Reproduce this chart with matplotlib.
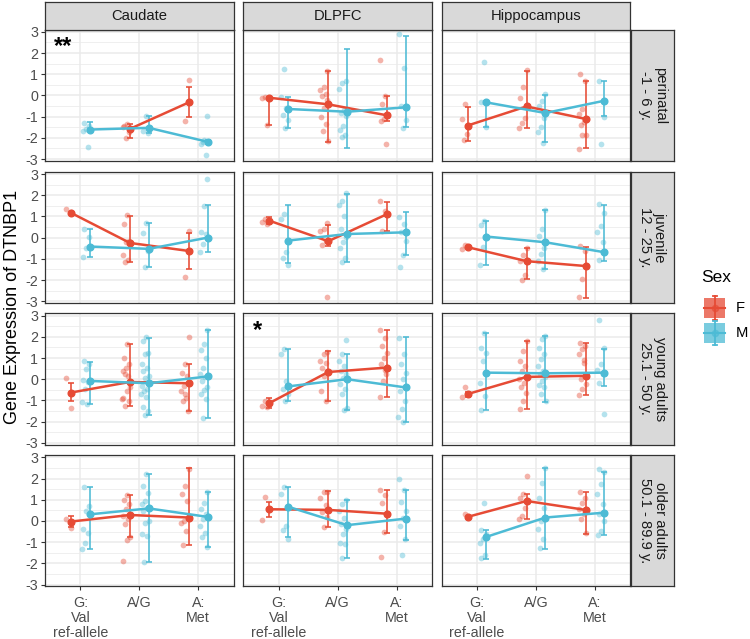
import matplotlib
matplotlib.use("Agg")
import matplotlib.pyplot as plt
from matplotlib.patches import Rectangle
from matplotlib.lines import Line2D

plt.rcParams['font.family'] = ['Liberation Sans', 'DejaVu Sans']

regions = ["Caudate", "DLPFC", "Hippocampus"]
age_groups = ["perinatal\n-1 - 6 y.", "juvenile\n12 - 25 y.",
              "young adults\n25.1 - 50 y.", "older adults\n50.1 - 89.9 y."]
genotypes = ["G:\nVal\nref-allele", "A/G", "A:\nMet"]
sexes = ["F", "M"]
colors = {"F": "#E64B35", "M": "#4DBBD5"}
y_ticks = [-3, -2, -1, 0, 1, 2, 3]
signif = {(0, 0): "**", (2, 1): "*"}

# [age][region][genotype]
F_mean = [
    [[None, -1.58, -0.33], [-0.11, -0.42, -0.94], [-1.42, -0.52, -1.11]],
    [[1.17, -0.25, -0.63], [0.80, -0.17, 1.11], [-0.45, -1.11, -1.34]],
    [[-0.63, -0.13, -0.19], [-1.13, 0.34, 0.55], [-0.70, 0.11, 0.16]],
    [[-0.03, 0.28, 0.16], [0.55, 0.52, 0.34], [0.19, 0.94, 0.52]],
]
F_lo = [
    [[None, -2.03, -1.03], [-1.41, -2.19, -1.22], [-2.13, -1.53, -2.50]],
    [[None, -1.16, -1.47], [0.64, -0.38, 0.30], [None, -1.97, -2.83]],
    [[-1.05, -1.25, -1.52], [-1.36, -1.02, -0.83], [-0.83, -1.41, -0.73]],
    [[-0.31, -0.75, -1.14], [0.20, -0.27, -0.55], [None, 0.11, -0.63]],
]
F_hi = [
    [[None, -1.34, 0.38], [-0.06, 1.16, -0.02], [-0.55, 1.17, 0.70]],
    [[None, 1.03, 0.20], [0.95, 0.61, 1.69], [None, -0.48, -0.42]],
    [[-0.20, 1.67, 0.73], [-0.89, 1.33, 2.30], [-0.58, 1.80, 1.69]],
    [[0.23, 1.22, 2.48], [0.91, 1.41, 1.48], [None, 1.25, 1.36]],
]
M_mean = [
    [[-1.61, -1.53, -2.19], [-0.64, -0.77, -0.56], [-0.33, -0.83, -0.25]],
    [[-0.42, -0.53, 0.00], [-0.14, 0.17, 0.25], [0.05, -0.22, -0.69]],
    [[-0.08, -0.19, 0.13], [-0.34, 0.00, -0.39], [0.31, 0.28, 0.31]],
    [[0.31, 0.59, 0.19], [0.67, -0.20, 0.11], [-0.75, 0.16, 0.39]],
]
M_lo = [
    [[-1.69, -1.77, -2.27], [-1.53, -2.50, -1.50], [-1.50, -2.20, -0.98]],
    [[-0.92, -1.39, -0.69], [-1.20, -1.16, -0.80], [-1.28, -1.47, -1.08]],
    [[-1.17, -1.67, -1.83], [-1.05, -1.45, -2.03], [-1.45, -1.09, -0.31]],
    [[-1.33, -1.95, -1.22], [-0.78, -1.75, -0.91], [-1.80, -1.33, -0.67]],
]
M_hi = [
    [[-1.27, -0.98, -2.10], [-0.08, 2.19, 2.81], [-0.28, 0.03, 0.69]],
    [[0.41, 0.67, 1.53], [1.53, 2.08, 1.22], [0.80, 1.30, 1.55]],
    [[0.83, 1.95, 2.30], [1.41, 1.17, 1.98], [2.17, 2.03, 1.44]],
    [[1.61, 2.20, 1.36], [1.61, 0.97, 1.44], [-0.44, 2.50, 2.31]],
]

# individual samples per [region][genotype]
F_pts_perinatal = [
    [[], [-1.33, -1.42, -1.73, -2.0, -1.5], [0.75, -1.22]],
    [[-0.09, -0.12, -1.39],
     [1.16, 0.38, 0.27, 0.08, -0.05, -0.23, -0.59, -1.02, -1.34, -1.67, -2.16],
     [1.67, -0.02, -0.41, -0.98, -1.11, -1.22, -2.31]],
    [[-0.41, -1.09, -1.84, -2.08], [1.19, 0.42, -0.13, -1.06, -1.3, -1.56],
     [1.0, 0.7, -0.64, -0.86, -1.25, -1.38, -1.88, -1.88, -2.52]],
]
M_pts_perinatal = [
    [[-1.3, -1.45, -1.6, -1.69, -2.44], [-0.98, -1.69, -1.77],
     [-0.95, -2.1, -2.27, -2.83, -2.2]],
    [[1.23, -0.08, -0.61, -0.92, -1.14, -1.53],
     [0.7, 0.58, 0.3, -0.67, -0.83, -0.98, -1.45, -1.63, -1.88, -1.95],
     [2.88, 1.28, -0.52, -1.14, -1.56]],
    [[1.59, -0.33, -1.5], [0.08, -0.28, -0.52, -1.06, -1.48, -1.73, -2.23],
     [0.69, -1.02, -2.28]],
]
F_pts_juvenile = [
    [[1.34, 1.19], [1.06, 0.64, -0.14, -0.22, -0.81, -1.05, -1.16], [0.33, -1.86]],
    [[0.87, 0.72, 0.64], [0.67, 0.41, 0.33, -0.14, -0.33, -2.8], [1.73, 1.27, 0.33]],
    [[-0.34, -0.53], [-0.48, -0.84, -1.08, -1.78, -1.98], [-0.38, -0.61, -1.94, -2.8]],
]
M_pts_juvenile = [
    [[0.41, 0.05, -0.48, -0.92], [0.7, 0.22, -0.61, -1.39],
     [2.78, 1.5, 0.25, 0.17, -0.3, -0.66]],
    [[1.11, 0.88, -0.66, -0.97, -1.28],
     [2.09, 1.73, 1.53, 1.03, 0.41, 0.02, -0.22, -0.5, -0.97, -1.16],
     [0.95, 0.64, 0.25, -0.14, -0.8, -1.39]],
    [[0.8, 0.59, 0.09, -0.42, -1.28], [1.3, 0.41, 0.09, -0.48, -0.77, -1.08, -1.47],
     [1.58, 1.14, 0.56, 0.25, -0.22, -1.05]],
]
F_pts_young = [
    [[0.08, -1.36],
     [1.67, 0.98, 0.7, 0.55, 0.39, 0.16, 0.25, -0.39, -0.55, -0.89, -1.02, -1.25, -0.95],
     [2.0, 0.73, 0.27, 0.16, -0.31, -0.55, -0.89, -1.02, -1.52, -0.7]],
    [[-1.02, -1.25, -1.3],
     [1.3, 1.17, 0.86, 0.78, 0.55, 0.39, 0.16, -0.55, -1.02],
     [2.3, 1.95, 1.56, 1.25, 1.02, 0.7, 0.23, -0.08, -0.83, 0.45]],
    [[-0.39, -0.86],
     [1.8, 1.33, 0.86, 0.63, 0.39, 0.0, -0.2, -0.39, -0.63, -1.02, -1.41],
     [1.69, 1.56, 1.41, 1.17, 0.78, 0.0, -0.23, -0.47, -0.73, 0.9]],
]
M_pts_young = [
    [[0.86, 0.7, 0.47, -0.05, -0.11, -0.47, -1.06, -1.17],
     [1.98, 1.8, 1.25, 1.17, 0.7, 0.55, 0.39, 0.16, 0.05, -0.31, -0.45, -0.55, -0.7,
      -0.86, -1.33, -1.48, -1.67],
     [2.3, 1.64, 1.4, 1.02, 0.55, 0.23, 0.1, -0.08, -0.39, -0.5, -0.7, -0.94, -1.83]],
    [[1.41, 1.17, -0.08, -0.47, -0.7, -1.05],
     [1.83, 1.17, 0.86, 0.63, 0.4, 0.23, 0.05, -0.23, -0.47, -0.7, -1.36, -1.45],
     [1.95, 1.17, 0.7, 0.31, 0.0, -0.55, -1.02, -1.41, -1.8, -2.03]],
    [[2.19, 1.48, 1.25, 0.86, -0.16, -0.78, -1.45],
     [2.03, 1.88, 1.48, 1.17, 0.94, 0.63, 0.4, 0.23, 0.1, -0.08, -0.25, -0.39, -0.7,
      -1.02],
     [2.8, 1.48, 0.7, 0.45, 0.23, -0.16, -1.64]],
]
F_pts_older = [
    [[0.11, -0.34], [1.22, 0.97, 0.78, 0.55, 0.23, 0.1, -0.16, -0.75, -0.89, -1.88],
     [2.47, 1.64, 1.25, 0.94, 0.0, -0.08, -0.47, -1.13]],
    [[1.14, 0.05], [1.38, 1.38, 1.06, 0.73, 0.4, 0.2, -0.27],
     [1.48, 1.2, 0.86, 0.39, -0.52, -1.69]],
    [[0.34], [2.11, 1.25, 1.09, 0.63, 0.23, 0.11],
     [1.36, 1.09, 0.86, 0.55, 0.31, 0.11, -0.59]],
]
M_pts_older = [
    [[1.61, 0.7, 0.47, -0.36, -0.55, -1.06, -1.33],
     [2.19, 1.64, 1.33, 0.94, 0.8, 0.63, 0.47, 0.0, -0.1, -0.63, -0.7, -1.95],
     [1.36, 0.86, 0.55, 0.31, 0.1, -0.23, -0.55, -0.78, -1.22]],
    [[1.61, 1.25, -0.23, -0.44, -0.83],
     [0.97, 0.78, 0.47, 0.16, -0.16, -0.4, -0.63, -1.02, -1.09, -1.75],
     [2.0, 1.44, 0.91, 0.47, 0.16, -0.23, -0.86, -1.59]],
    [[0.86, -0.44, -0.63, -0.86, -1.02, -1.59, -1.73],
     [2.5, 1.8, 1.09, 0.63, 0.0, -0.39, -0.86, -1.28],
     [2.45, 2.3, 1.72, 1.25, 0.78, 0.31, 0.0, -0.47, -0.67]],
]

F_pts = [F_pts_perinatal, F_pts_juvenile, F_pts_young, F_pts_older]
M_pts = [M_pts_perinatal, M_pts_juvenile, M_pts_young, M_pts_older]
series = {
    "F": (F_mean, F_lo, F_hi, F_pts),
    "M": (M_mean, M_lo, M_hi, M_pts),
}

# ---- layout (pixel geometry) ----
W, H = 750, 639
col_left = [45, 243.3, 441.7]
panel_w = 188.6
row_top = [29.5, 171.7, 313.3, 455.0]
panel_h = 131.2
dodge = {"F": -0.16, "M": 0.16}

fig = plt.figure(figsize=(W / 100, H / 100), dpi=100)
fig.patch.set_facecolor("white")


def box(left, top, w, h):
    return [left / W, 1 - (top + h) / H, w / W, h / H]


GRID = "#EBEBEB"
BORDER = "#333333"
TICKFS = 10.3

for r in range(4):
    for c in range(3):
        ax = fig.add_axes(box(col_left[c], row_top[r], panel_w, panel_h))
        ax.set_facecolor("white")
        ax.set_xlim(0.4, 3.6)
        ax.set_ylim(-3.08, 3.11)
        ax.set_yticks(y_ticks)
        ax.set_yticks([-2.5, -1.5, -0.5, 0.5, 1.5, 2.5], minor=True)
        ax.set_xticks([1, 2, 3])
        ax.grid(which="major", color=GRID, lw=1.1, zorder=0)
        ax.grid(which="minor", axis="y", color=GRID, lw=0.55, zorder=0)
        ax.set_axisbelow(True)
        for s in ax.spines.values():
            s.set_color(BORDER)
            s.set_linewidth(0.9)
        ax.tick_params(which="minor", length=0)
        ax.tick_params(which="major", length=3, color=BORDER, width=0.8,
                       labelcolor="#4D4D4D", labelsize=TICKFS, pad=2)
        ax.tick_params(axis="x", pad=4)
        if c == 0:
            ax.set_yticklabels([str(t) for t in y_ticks])
        else:
            ax.tick_params(axis="y", length=0, labelleft=False)
        if r == 3:
            ax.set_xticklabels(genotypes, linespacing=1.1)
        else:
            ax.tick_params(axis="x", length=0, labelbottom=False)

        for sex in sexes:
            mean, lo, hi, pts = series[sex]
            col = colors[sex]
            # jittered samples
            for g in range(3):
                vals = pts[r][c][g]
                xs = []
                for k in range(len(vals)):
                    j = ((k * 0.618034 + 0.31 * (g + 1) + 0.17 * c) % 1.0) * 2 - 1
                    xs.append(g + 1 + dodge[sex] - 0.065 + 0.07 * j)
                ax.scatter(xs, vals, s=17, color=col, alpha=0.42, linewidths=0,
                           zorder=2)
        for sex in sexes:
            mean, lo, hi, pts = series[sex]
            col = colors[sex]
            for g in range(3):
                m = mean[r][c][g]
                if m is None or lo[r][c][g] is None:
                    continue
                ax.errorbar([g + 1 + dodge[sex]], [m],
                            yerr=[[m - lo[r][c][g]], [hi[r][c][g] - m]],
                            fmt="none", ecolor=col, elinewidth=1.15, capsize=2.2,
                            capthick=1.15, zorder=3)
        for sex in sexes:
            mean = series[sex][0]
            col = colors[sex]
            xs = [g + 1 + dodge[sex] for g in range(3) if mean[r][c][g] is not None]
            ys = [v for v in mean[r][c] if v is not None]
            ax.plot(xs, ys, color=col, lw=1.8, marker="o", ms=4.8, zorder=4)

        if (r, c) in signif:
            ax.text(0.05, 0.87, signif[(r, c)], transform=ax.transAxes,
                    fontsize=17, fontweight="bold", va="center", ha="left",
                    color="black")

# strips
STRIP = "#D9D9D9"
STRIPFS = 10.6
for c in range(3):
    sax = fig.add_axes(box(col_left[c], 2.0, panel_w, 27.5))
    sax.set_facecolor(STRIP)
    sax.set_xticks([]); sax.set_yticks([])
    for s in sax.spines.values():
        s.set_color(BORDER); s.set_linewidth(0.9)
    sax.text(0.5, 0.5, regions[c], ha="center", va="center", fontsize=STRIPFS,
             color="#1A1A1A", transform=sax.transAxes)
for r in range(4):
    sax = fig.add_axes(box(631, row_top[r], 43, panel_h))
    sax.set_facecolor(STRIP)
    sax.set_xticks([]); sax.set_yticks([])
    for s in sax.spines.values():
        s.set_color(BORDER); s.set_linewidth(0.9)
    sax.text(0.5, 0.5, age_groups[r], ha="center", va="center", fontsize=STRIPFS,
             color="#1A1A1A", rotation=-90, linespacing=1.05,
             transform=sax.transAxes)

# y-axis title
fig.text(13 / W, 1 - 307 / H, "Gene Expression of DTNBP1", rotation=90,
         ha="center", va="center", fontsize=13, color="black")

# legend
lax = fig.add_axes([0, 0, 1, 1], facecolor="none")
lax.set_xlim(0, W); lax.set_ylim(H, 0); lax.axis("off")
lax.text(701, 278, "Sex", fontsize=12.5, ha="left", va="center", color="black")
for i, sex in enumerate(sexes):
    cy = 308 + 25 * i
    col = colors[sex]
    lax.add_patch(Rectangle((704, cy - 10), 21, 20, facecolor=col, alpha=0.75,
                            edgecolor="none"))
    lax.add_line(Line2D([714.5, 714.5], [cy - 12, cy + 12], color=col, lw=1.3))
    lax.add_line(Line2D([712.5, 716.5], [cy - 12, cy - 12], color=col, lw=1.3))
    lax.add_line(Line2D([712.5, 716.5], [cy + 12, cy + 12], color=col, lw=1.3))
    lax.add_line(Line2D([704, 725], [cy, cy], color=col, lw=1.5))
    lax.add_line(Line2D([714.5], [cy], color=col, marker="o", ms=4.5, alpha=0.6))
    lax.text(736, cy, sex, fontsize=10.6, ha="left", va="center", color="black")

fig.savefig("out.png", dpi=100)
